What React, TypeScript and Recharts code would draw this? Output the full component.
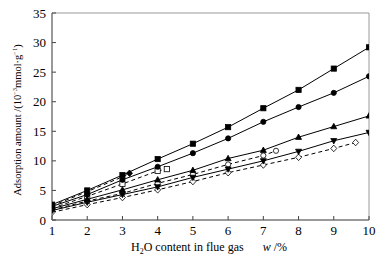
import React from "react";
import { LineChart, Line, XAxis, YAxis, ReferenceArea } from "recharts";

const xTicks = [1, 2, 3, 4, 5, 6, 7, 8, 9, 10];
const yTicks = [0, 5, 10, 15, 20, 25, 30, 35];

const xInt = [1, 2, 3, 4, 5, 6, 7, 8, 9, 10];
const sqVals = [2.6, 5.0, 7.6, 10.3, 12.9, 15.7, 18.9, 22.0, 25.6, 29.2];
const ciVals = [2.3, 4.3, 6.8, 9.0, 11.3, 13.8, 16.6, 19.1, 21.5, 24.3];
const trVals = [1.9, 3.5, 5.1, 6.8, 8.4, 10.4, 11.8, 14.0, 15.8, 17.6];
const itVals = [1.6, 3.0, 4.3, 5.6, 7.2, 8.6, 10.0, 11.6, 13.4, 14.8];

const dAx = [1, 2, 3, 3.2];
const dAVals = [2.4, 4.8, 7.3, 7.9];
const dBx = [1, 2, 3, 4, 4.26];
const dBVals = [2.0, 4.0, 6.1, 8.3, 8.6];
const dCx = [1, 2, 3, 4, 5, 6, 7, 7.36];
const dCVals = [1.7, 3.2, 4.5, 6.2, 7.7, 9.4, 10.9, 11.7];
const dDx = [1, 2, 3, 4, 5, 6, 7, 8, 9, 9.62];
const dDVals = [1.3, 2.6, 3.8, 5.1, 6.5, 8.0, 9.3, 10.6, 12.1, 13.1];

const toData = (xs: number[], ys: number[]) => xs.map((x, i) => ({ x, y: ys[i] }));

const makeDot = (shape: string, filled: boolean, lastOnly = false) => (props: any) => {
  const { cx, cy, index, points } = props;
  const key = `${shape}-${index}`;
  if (cx == null || cy == null) return <g key={key} />;
  if (lastOnly && points && index !== points.length - 1) return <g key={key} />;
  const fill = filled ? "#000" : "#fff";
  const s = 2.6;
  let el;
  if (shape === "square") {
    el = <rect x={cx - s} y={cy - s} width={2 * s} height={2 * s} fill={fill} stroke="#000" strokeWidth={0.8} />;
  } else if (shape === "circle") {
    el = <circle cx={cx} cy={cy} r={s} fill={fill} stroke="#000" strokeWidth={0.8} />;
  } else if (shape === "triangle") {
    el = <polygon points={`${cx},${cy - 3.2} ${cx - 3},${cy + 2.2} ${cx + 3},${cy + 2.2}`} fill={fill} stroke="#000" strokeWidth={0.8} />;
  } else if (shape === "itriangle") {
    el = <polygon points={`${cx},${cy + 3.2} ${cx - 3},${cy - 2.2} ${cx + 3},${cy - 2.2}`} fill={fill} stroke="#000" strokeWidth={0.8} />;
  } else {
    el = <polygon points={`${cx},${cy - 3.3} ${cx + 3},${cy} ${cx},${cy + 3.3} ${cx - 3},${cy}`} fill={fill} stroke="#000" strokeWidth={0.8} />;
  }
  return <g key={key}>{el}</g>;
};

const series = [
  { name: "dD", data: toData(dDx, dDVals), dash: "4 3", dot: makeDot("diamond", false) },
  { name: "dC", data: toData(dCx, dCVals), dash: "4 3", dot: makeDot("circle", false) },
  { name: "dB", data: toData(dBx, dBVals), dash: "4 3", dot: makeDot("square", false) },
  { name: "dA", data: toData(dAx, dAVals), dash: "4 3", dot: makeDot("diamond", true, true) },
  { name: "it", data: toData(xInt, itVals), dash: undefined, dot: makeDot("itriangle", true) },
  { name: "tr", data: toData(xInt, trVals), dash: undefined, dot: makeDot("triangle", true) },
  { name: "ci", data: toData(xInt, ciVals), dash: undefined, dot: makeDot("circle", true) },
  { name: "sq", data: toData(xInt, sqVals), dash: undefined, dot: makeDot("square", true) },
];

const font = "'Liberation Serif', 'Times New Roman', serif";

export default function App() {
  return (
    <div style={{ position: "absolute", left: 0, top: 0, width: 387, height: 262, background: "#fff", fontFamily: font }}>
      <LineChart width={387} height={262} margin={{ top: 13, right: 18, left: 12, bottom: 0 }}>
        <ReferenceArea x1={1} x2={10} y1={0} y2={35} fill="none" stroke="#999" strokeWidth={1} ifOverflow="visible" />
        <XAxis
          type="number"
          dataKey="x"
          domain={[1, 10]}
          ticks={xTicks}
          allowDataOverflow
          height={42}
          tickSize={-4}
          tickMargin={10}
          axisLine={{ stroke: "#666" }}
          tickLine={{ stroke: "#444" }}
          tick={{ fill: "#000", fontSize: 13, fontFamily: font }}
        />
        <YAxis
          type="number"
          domain={[0, 35]}
          ticks={yTicks}
          width={40}
          tickSize={-4}
          tickMargin={10}
          axisLine={{ stroke: "#666" }}
          tickLine={{ stroke: "#444" }}
          tick={{ fill: "#000", fontSize: 13, fontFamily: font }}
        />
        {series.map((s) => (
          <Line
            key={s.name}
            data={s.data}
            dataKey="y"
            type="linear"
            stroke="#000"
            strokeWidth={1}
            strokeDasharray={s.dash}
            dot={s.dot}
            activeDot={false}
            isAnimationActive={false}
          />
        ))}
      </LineChart>
      <div
        style={{
          position: "absolute",
          left: 18,
          top: 120,
          transform: "translate(-50%, -50%) rotate(-90deg)",
          whiteSpace: "nowrap",
          fontSize: 10.5,
          lineHeight: "12px",
          fontFamily: font,
          color: "#000",
        }}
      >
        Adsorption amount /(10<sup style={{ fontSize: 6.5, lineHeight: 0 }}>−3</sup>mmol·g<sup style={{ fontSize: 6.5, lineHeight: 0 }}>−1</sup>)
      </div>
      <div
        style={{
          position: "absolute",
          left: 131,
          top: 240,
          whiteSpace: "nowrap",
          fontSize: 12,
          lineHeight: "14px",
          fontFamily: font,
          color: "#000",
        }}
      >
        H<sub style={{ fontSize: 8, lineHeight: 0 }}>2</sub>O content in flue gas<span style={{ marginLeft: 19, fontStyle: "italic" }}>w</span> /%
      </div>
    </div>
  );
}
